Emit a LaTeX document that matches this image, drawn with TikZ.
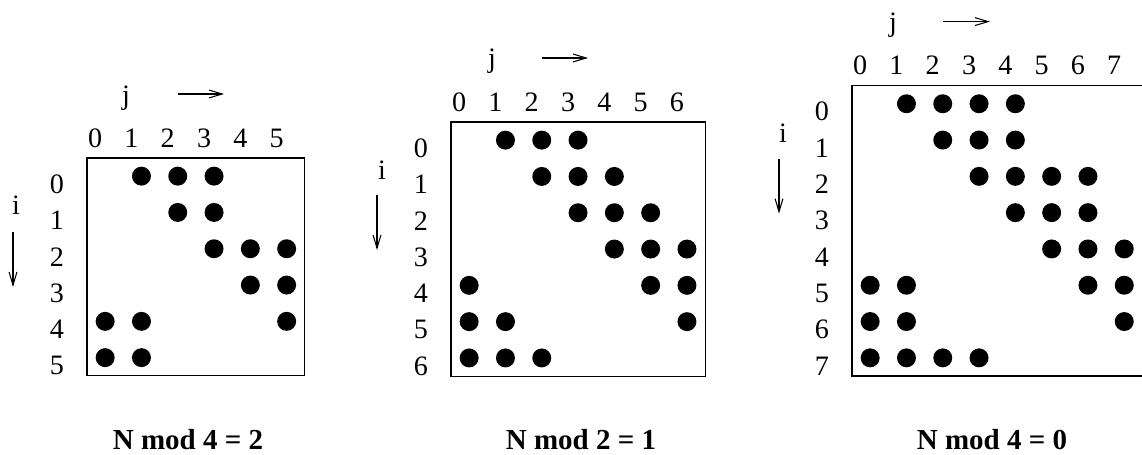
\documentclass[tikz,border=0pt]{standalone}
\usepackage{fontspec}
\setmainfont{Liberation Serif}
\usetikzlibrary{arrows.meta}
\def\cellsz{36.3}
\tikzset{
  cellbox/.style={line width=0.6pt},
  idxlabel/.style={font=\fontsize{16}{19}\selectfont,inner sep=0pt},
  dirarrow/.style={line width=0.6pt,-{Straight Barb[length=7.5pt,width=4.5pt]}},
  caption/.style={font=\fontsize{16.5}{20}\selectfont\bfseries,inner sep=0pt}
}

\begin{document}
\begin{tikzpicture}[x=0.02cm,y=-0.02cm]
    \useasboundingbox (0,0) rectangle (1142,455);
    % N mod 4 = 2
    \begin{scope}[shift={(87,158)}]
      \draw[cellbox] (0,0) rectangle (6*\cellsz,6*\cellsz);
      \foreach \k in {0,...,5}{
        \node[idxlabel] (a-col\k) at ({\cellsz*(\k+0.5)-10},-20) {\k};
        \node[idxlabel] (a-row\k) at (-30,{\cellsz*(\k+0.5)+8}) {\k};
      }
      \foreach \c/\r in {1/0,2/0,3/0,2/1,3/1,3/2,4/2,5/2,4/3,5/3,0/4,1/4,5/4,0/5,1/5}{\fill ({\cellsz*(\c+0.5)},{\cellsz*(\r+0.5)}) circle (5.4pt);}
      \node[idxlabel] (a-j) at (39,-60) {j};
      \coordinate (a-jfrom) at (91,-64);
      \coordinate (a-jto) at (137,-64);
      \draw[dirarrow] (a-jfrom) -- (a-jto);
      \node[idxlabel] (a-i) at (-71,47) {i};
      \coordinate (a-ifrom) at (-74,74);
      \coordinate (a-ito) at (-74,129);
      \draw[dirarrow] (a-ifrom) -- (a-ito);
    \end{scope}
    \node[caption] (a-title) at (188,440) {N mod 4 = 2};
    % N mod 2 = 1
    \begin{scope}[shift={(451,122)}]
      \draw[cellbox] (0,0) rectangle (7*\cellsz,7*\cellsz);
      \foreach \k in {0,...,6}{
        \node[idxlabel] (b-col\k) at ({\cellsz*(\k+0.5)-10},-20) {\k};
        \node[idxlabel] (b-row\k) at (-30,{\cellsz*(\k+0.5)+8}) {\k};
      }
      \foreach \c/\r in {1/0,2/0,3/0,2/1,3/1,4/1,3/2,4/2,5/2,4/3,5/3,6/3,0/4,5/4,6/4,0/5,1/5,6/5,0/6,1/6,2/6}{\fill ({\cellsz*(\c+0.5)},{\cellsz*(\r+0.5)}) circle (5.4pt);}
      \node[idxlabel] (b-j) at (41,-61) {j};
      \coordinate (b-jfrom) at (91,-64);
      \coordinate (b-jto) at (137,-64);
      \draw[dirarrow] (b-jfrom) -- (b-jto);
      \node[idxlabel] (b-i) at (-69,48) {i};
      \coordinate (b-ifrom) at (-74,73);
      \coordinate (b-ito) at (-74,128);
      \draw[dirarrow] (b-ifrom) -- (b-ito);
    \end{scope}
    \node[caption] (b-title) at (581,440) {N mod 2 = 1};
    % N mod 4 = 0
    \begin{scope}[shift={(852,85.6)}]
      \draw[cellbox] (0,0) rectangle (8*\cellsz,8*\cellsz);
      \foreach \k in {0,...,7}{
        \node[idxlabel] (c-col\k) at ({\cellsz*(\k+0.5)-10},-20) {\k};
        \node[idxlabel] (c-row\k) at (-30,{\cellsz*(\k+0.5)+8}) {\k};
      }
      \foreach \c/\r in {1/0,2/0,3/0,4/0,2/1,3/1,4/1,3/2,4/2,5/2,6/2,4/3,5/3,6/3,5/4,6/4,7/4,0/5,1/5,6/5,7/5,0/6,1/6,7/6,0/7,1/7,2/7,3/7}{\fill ({\cellsz*(\c+0.5)},{\cellsz*(\r+0.5)}) circle (5.4pt);}
      \node[idxlabel] (c-j) at (41,-60) {j};
      \coordinate (c-jfrom) at (91,-64);
      \coordinate (c-jto) at (138,-64);
      \draw[dirarrow] (c-jfrom) -- (c-jto);
      \node[idxlabel] (c-i) at (-69,48) {i};
      \coordinate (c-ifrom) at (-73,73);
      \coordinate (c-ito) at (-73,128);
      \draw[dirarrow] (c-ifrom) -- (c-ito);
    \end{scope}
    \node[caption] (c-title) at (992,440) {N mod 4 = 0};
  \end{tikzpicture}
\end{document}
